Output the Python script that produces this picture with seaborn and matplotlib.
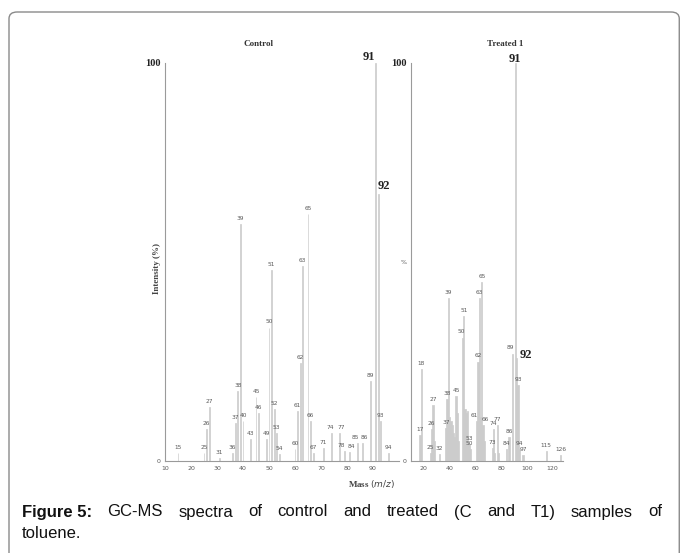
import matplotlib
matplotlib.use('Agg')
import matplotlib.pyplot as plt
import seaborn as sns
from matplotlib.patches import FancyBboxPatch

sns.set_style('white')
plt.rcParams['font.family'] = ['DejaVu Sans']

# Control spectrum (m/z, relative intensity %, label text)
ctrl_mz = [15, 25, 26, 27, 31, 36, 37, 38, 39, 40, 43, 45, 46, 49, 50, 51, 52, 53,
           54, 60, 61, 62, 63, 65, 66, 67, 71, 74, 77, 79, 81, 84, 86, 89, 91, 92, 93, 96]
ctrl_int = [2, 2, 8, 13.5, 0.8, 2, 9.5, 17.5, 59.5, 10, 5.5, 16, 12, 5.5, 33.5, 48, 13, 7,
            1.8, 3, 12.5, 24.5, 49, 62, 10, 2, 3.2, 7, 7, 2.5, 2.2, 4.5, 4.5, 20, 100, 67, 10, 2]
ctrl_lab = ['15', '25', '26', '27', '31', '36', '37', '38', '39', '40', '43', '45', '46', '49',
            '50', '51', '52', '53', '54', '60', '61', '62', '63', '65', '66', '67', '71', '74',
            '77', '78', '84', '85', '86', '89', '91', '92', '93', '94']
# small sideways shifts of crowded labels (m/z units)
ctrl_shift = {'78': -1.2, '84': 0.8, '85': -0.6, '86': 0.8, '74': -0.6, '77': 0.6}

# Treated 1 spectrum
trt_mz = [17, 18, 25, 26, 27, 28, 32, 37, 38, 39, 40, 41, 42, 43, 44, 45, 46, 47,
          50, 51, 52, 53, 54, 55, 56, 61, 62, 63, 64, 65, 66, 67, 73, 74, 75, 77, 78,
          84, 86, 89, 91, 92, 93, 94, 97, 115, 126]
trt_int = [6.5, 23, 2, 8, 14, 5, 1.8, 8.3, 15.6, 41, 11, 10, 9, 7, 6, 16.4, 12, 5,
           31, 36.5, 13, 12, 12.5, 4.3, 3, 10, 25, 41, 11, 45, 9, 5, 3.3, 8, 2, 9, 2,
           3, 6, 27, 100, 26, 19, 3, 1.5, 2.5, 1.5]
trt_lab = ['17', '18', '25', '26', '27', '', '32', '37', '38', '39', '', '', '', '', '', '45', '', '',
           '50', '51', '', '', '', '53', '50', '61', '62', '63', '', '65', '66', '', '73', '74', '',
           '77', '', '84', '86', '89', '91', '92', '93', '94', '97', '115', '126']
trt_shift = {'89': -1.5, '61': -2.0, '66': 2.0, '50': -1.0}

bar_col = '#cccccc'
lab_col = '#5a5a5a'
spine_col = '#9a9a9a'
serif = ['Liberation Serif', 'DejaVu Serif']

W, H = 683, 553
fig = plt.figure(figsize=(W / 100, H / 100), dpi=100)


def px(x0, y0, x1, y1):
    return [x0 / W, 1 - y1 / H, (x1 - x0) / W, (y1 - y0) / H]


# outer frame
frame = FancyBboxPatch((9 / W, -0.05), 673 / W - 0.004, 1 - 12 / H + 0.05,
                       boxstyle='round,pad=0,rounding_size=0.012',
                       transform=fig.transFigure, fill=False, edgecolor='#8a8a8a', lw=1.0)
fig.patches.append(frame)

ax1 = fig.add_axes(px(165, 63, 399, 461))
ax2 = fig.add_axes(px(411, 63, 563, 461))


def spectrum(ax, mz, inten, labels, width, xlim, xticks, big, shift):
    sns.barplot(x=mz, y=inten, native_scale=True, width=width, color=bar_col,
                edgecolor=bar_col, linewidth=0.5, saturation=1, errorbar=None, ax=ax)
    ax.set_xlim(*xlim)
    ax.set_ylim(0, 100)
    for m, v, t in zip(mz, inten, labels):
        if not t:
            continue
        if t in big:
            dx, dy = big[t]
            ax.text(m + dx, v + dy, t, fontsize=9, fontweight='bold', family=serif,
                    color='#222222', ha='center', va='bottom', clip_on=False)
        else:
            ax.text(m + shift.get(t, 0), v + 0.8, t, fontsize=4.2, color=lab_col,
                    ha='center', va='bottom')
    ax.set_xticks(xticks)
    ax.set_xticklabels([str(t) for t in xticks], fontsize=4.5, color=lab_col)
    ax.tick_params(axis='x', length=1.5, width=0.5, color=spine_col, pad=2)
    ax.tick_params(axis='y', length=0, pad=3)
    for s in ['top', 'right']:
        ax.spines[s].set_visible(False)
    for s in ['left', 'bottom']:
        ax.spines[s].set_color(spine_col)
        ax.spines[s].set_linewidth(0.8)
    ax.set_xlabel('')
    ax.set_ylabel('')
    ax.patch.set_alpha(0)


spectrum(ax1, ctrl_mz, ctrl_int, ctrl_lab, 0.3, (10, 100),
         [10, 20, 30, 40, 50, 60, 70, 80, 90], {'91': (-2.5, 0.0), '92': (2.2, 0.6)}, ctrl_shift)
spectrum(ax2, trt_mz, trt_int, trt_lab, 1.0, (10, 128),
         [20, 40, 60, 80, 100, 120], {'91': (0, -0.5), '92': (7.5, -1.0)}, trt_shift)

ax1.set_yticks([0, 100])
ax1.set_yticklabels(['0', '100'])
ax2.set_yticks([0, 50, 100])
ax2.set_yticklabels(['0', '%', '100'])
for ax in (ax1, ax2):
    for t in ax.get_yticklabels():
        if t.get_text() == '100':
            t.set_fontsize(7.5)
            t.set_fontweight('bold')
            t.set_family(serif)
            t.set_color('#222222')
        else:
            t.set_fontsize(4.5)
            t.set_color(lab_col)

fig.text(258 / W, 1 - 44 / H, 'Control', fontsize=6.5, fontweight='bold', family=serif,
         color='#333333', ha='center', va='center')
fig.text(505 / W, 1 - 44 / H, 'Treated 1', fontsize=6.5, fontweight='bold', family=serif,
         color='#333333', ha='center', va='center')
fig.text(157 / W, 1 - 268 / H, 'Intensity (%)', fontsize=6.5, fontweight='bold', family=serif,
         color='#444444', rotation=90, ha='center', va='center')
fig.text(372 / W, 1 - 484 / H, r'Mass $\mathbf{\mathit{(m/z)}}$', fontsize=6.5, fontweight='bold',
         family=serif, color='#444444', ha='center', va='center')

# caption: first line justified between the two margins
cap_font = ['Liberation Sans', 'DejaVu Sans']
cap_size = 12
words = ['Figure 5:', 'GC-MS', 'spectra', 'of', 'control', 'and', 'treated', '(C', 'and', 'T1)',
         'samples', 'of']
x_left, x_right, y1 = 22, 662, 512
fig.canvas.draw()
rend = fig.canvas.get_renderer()
objs = []
for i, w in enumerate(words):
    t = fig.text(0, 1 - y1 / H, w, fontsize=cap_size, family=cap_font, color='#111111',
                 fontweight='bold' if i == 0 else 'normal', va='center', ha='left')
    objs.append(t)
widths = [t.get_window_extent(rend).width for t in objs]
gap = (x_right - x_left - sum(widths)) / (len(words) - 1)
x = x_left
for t, wd in zip(objs, widths):
    t.set_x(x / W)
    x += wd + gap
fig.text(x_left / W, 1 - 533 / H, 'toluene.', fontsize=cap_size, family=cap_font, color='#111111',
         va='center', ha='left')

fig.savefig('out.png', dpi=100)
